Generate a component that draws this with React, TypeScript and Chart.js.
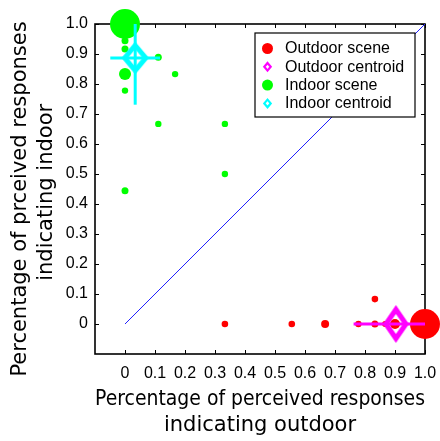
import React, { useEffect, useRef } from 'react';
import { Chart, registerables } from 'chart.js';

Chart.register(...registerables);

const FONT = "'Liberation Sans', Arial, Helvetica, sans-serif";
const TITLE_FONT = "'DejaVu Sans', 'Liberation Sans', sans-serif";

// ---- data ----
const tickValues = [0, 0.1, 0.2, 0.3, 0.4, 0.5, 0.6, 0.7, 0.8, 0.9, 1.0];
const xTickLabels = ['0', '0.1', '0.2', '0.3', '0.4', '0.5', '0.6', '0.7', '0.8', '0.9', '1.0'];
const yTickLabels = ['0', '0.1', '0.2', '0.3', '0.4', '0.5', '0.6', '0.7', '0.8', '0.9', '1.0'];
const axisMin = -0.1;
const axisMax = 1.0;

const outdoorSceneX = [1.0, 0.333, 0.556, 0.667, 0.778, 0.833, 0.833, 0.867, 0.9];
const outdoorSceneY = [0, 0, 0, 0, 0, 0, 0.083, 0, 0];
const outdoorSceneSize = [15, 3.3, 3.3, 4, 3.2, 3.5, 3.3, 3, 5];

const indoorSceneX = [0, 0, 0, 0, 0, 0.111, 0.167, 0.111, 0.333, 0.333, 0];
const indoorSceneY = [1.0, 0.944, 0.917, 0.833, 0.778, 0.889, 0.833, 0.667, 0.667, 0.5, 0.444];
const indoorSceneSize = [15, 3.5, 3.5, 6, 3.2, 3.5, 3.2, 3.2, 3.2, 3.2, 3.5];

const outdoorCentroidXY = [0.903, 0.0];
const outdoorCentroidSD = [0.141, 0.0];
const indoorCentroidXY = [0.034, 0.887];
const indoorCentroidSD = [0.083, 0.156];

const diagonalX = [0, 1];
const diagonalY = [0, 1];

const seriesLabels = ['Outdoor scene', 'Outdoor centroid', 'Indoor scene', 'Indoor centroid'];
const xTitleLines = ['Percentage of perceived responses', 'indicating outdoor'];
const yTitleLines = ['Percentage of prceived responses   ', 'indicating indoor '];

// ---- styles ----
const RED = '#ff0000';
const MAGENTA = '#ff00ff';
const GREEN = '#00ff00';
const CYAN = '#00ffff';
const BLUE = '#2020ff';

function makeDiamond(color: string, hw: number, hh: number, lw: number): HTMLCanvasElement {
  const c = document.createElement('canvas');
  const w = Math.ceil(2 * hw + 3 * lw);
  const h = Math.ceil(2 * hh + 3 * lw);
  c.width = w;
  c.height = h;
  const ctx = c.getContext('2d')!;
  const cx = w / 2;
  const cy = h / 2;
  ctx.strokeStyle = color;
  ctx.lineWidth = lw;
  ctx.lineJoin = 'miter';
  ctx.beginPath();
  ctx.moveTo(cx, cy - hh);
  ctx.lineTo(cx + hw, cy);
  ctx.lineTo(cx, cy + hh);
  ctx.lineTo(cx - hw, cy);
  ctx.closePath();
  ctx.stroke();
  return c;
}

function drawDiamondAt(ctx: CanvasRenderingContext2D, x: number, y: number, hw: number, hh: number, color: string, lw: number) {
  ctx.strokeStyle = color;
  ctx.lineWidth = lw;
  ctx.lineJoin = 'miter';
  ctx.beginPath();
  ctx.moveTo(x, y - hh);
  ctx.lineTo(x + hw, y);
  ctx.lineTo(x, y + hh);
  ctx.lineTo(x - hw, y);
  ctx.closePath();
  ctx.stroke();
}

const framePlugin = {
  id: 'matlabFrame',
  beforeDatasetsDraw(chart: any) {
    const { ctx, chartArea: a, scales } = chart;
    const xs = scales.x;
    const ys = scales.y;
    ctx.save();
    ctx.strokeStyle = '#000';
    ctx.lineWidth = 1;
    const tl = 4;
    ctx.beginPath();
    tickValues.forEach((v) => {
      const px = Math.round(xs.getPixelForValue(v)) + 0.5;
      ctx.moveTo(px, a.bottom);
      ctx.lineTo(px, a.bottom - tl);
      ctx.moveTo(px, a.top);
      ctx.lineTo(px, a.top + tl);
      const py = Math.round(ys.getPixelForValue(v)) + 0.5;
      ctx.moveTo(a.left, py);
      ctx.lineTo(a.left + tl, py);
      ctx.moveTo(a.right, py);
      ctx.lineTo(a.right - tl, py);
    });
    ctx.stroke();
    ctx.lineWidth = 1.6;
    ctx.strokeRect(a.left, a.top, a.right - a.left, a.bottom - a.top);
    ctx.restore();
  },
  afterDraw(chart: any) {
    const { ctx, chartArea: a } = chart;
    const boxW = 160;
    const boxH = 84;
    const left = a.right - 10 - boxW;
    const top = a.top + 9;
    ctx.save();
    ctx.fillStyle = '#fff';
    ctx.fillRect(left, top, boxW, boxH);
    ctx.strokeStyle = '#000';
    ctx.lineWidth = 1.2;
    ctx.strokeRect(left, top, boxW, boxH);
    const colors = [RED, MAGENTA, GREEN, CYAN];
    ctx.font = `16px ${FONT}`;
    ctx.textBaseline = 'middle';
    ctx.textAlign = 'left';
    seriesLabels.forEach((label, i) => {
      const y = top + 15.5 + i * 18.3;
      const mx = left + 12.5;
      if (i % 2 === 0) {
        ctx.fillStyle = colors[i];
        ctx.beginPath();
        ctx.arc(mx, y, 5.5, 0, Math.PI * 2);
        ctx.fill();
      } else {
        drawDiamondAt(ctx, mx, y, 3.2, 3.8, colors[i], 2.2);
      }
      ctx.fillStyle = '#000';
      ctx.fillText(label, left + 30, y + 0.5);
    });
    ctx.restore();
  },
};

export default function App() {
  const ref = useRef<HTMLCanvasElement>(null);

  useEffect(() => {
    const canvas = ref.current;
    if (!canvas) return;
    const magentaDiamond = makeDiamond(MAGENTA, 10, 14.5, 5);
    const cyanDiamond = makeDiamond(CYAN, 10.5, 12.5, 5);

    const pts = (xs: number[], ys: number[]) => xs.map((x, i) => ({ x, y: ys[i] }));
    const hBar = (c: number[], sd: number[]) => [
      { x: c[0] - sd[0], y: c[1] },
      { x: c[0] + sd[0], y: c[1] },
    ];
    const vBar = (c: number[], sd: number[]) => [
      { x: c[0], y: c[1] - sd[1] },
      { x: c[0], y: c[1] + sd[1] },
    ];

    const barStyle = (color: string) => ({
      type: 'line' as const,
      showLine: true,
      borderColor: color,
      borderWidth: 3,
      borderCapStyle: 'butt' as const,
      pointRadius: 0,
      fill: false,
      clip: 0,
      order: 1,
    });

    const tickOpts = (labels: string[], padding: number) => ({
      callback: (_v: any, i: number) => labels[i],
      font: { family: FONT, size: 16 },
      color: '#000',
      maxRotation: 0,
      autoSkip: false,
      padding,
    });

    const buildTicks = (s: any) => {
      s.ticks = tickValues.map((v) => ({ value: v }));
    };

    const chart = new Chart(canvas, {
      type: 'scatter',
      data: {
        datasets: [
          {
            label: seriesLabels[1],
            data: [{ x: outdoorCentroidXY[0], y: outdoorCentroidXY[1] }],
            pointStyle: magentaDiamond as any,
            pointRadius: 5,
            clip: false as any,
            order: 0,
          },
          {
            label: seriesLabels[3],
            data: [{ x: indoorCentroidXY[0], y: indoorCentroidXY[1] }],
            pointStyle: cyanDiamond as any,
            pointRadius: 5,
            clip: false as any,
            order: 0,
          },
          { label: 'outdoor-sd-x', data: hBar(outdoorCentroidXY, outdoorCentroidSD), ...barStyle(MAGENTA) } as any,
          { label: 'indoor-sd-x', data: hBar(indoorCentroidXY, indoorCentroidSD), ...barStyle(CYAN) } as any,
          { label: 'indoor-sd-y', data: vBar(indoorCentroidXY, indoorCentroidSD), ...barStyle(CYAN) } as any,
          {
            label: seriesLabels[0],
            data: pts(outdoorSceneX, outdoorSceneY),
            pointRadius: outdoorSceneSize,
            pointHoverRadius: outdoorSceneSize,
            backgroundColor: RED,
            borderWidth: 0,
            pointBorderWidth: 0,
            clip: false as any,
            order: 2,
          },
          {
            label: seriesLabels[2],
            data: pts(indoorSceneX, indoorSceneY),
            pointRadius: indoorSceneSize,
            pointHoverRadius: indoorSceneSize,
            backgroundColor: GREEN,
            borderWidth: 0,
            pointBorderWidth: 0,
            clip: false as any,
            order: 2,
          },
          {
            type: 'line',
            label: 'diagonal',
            data: pts(diagonalX, diagonalY),
            showLine: true,
            borderColor: BLUE,
            borderWidth: 1,
            pointRadius: 0,
            fill: false,
            order: 3,
          } as any,
        ],
      },
      options: {
        animation: false,
        responsive: true,
        maintainAspectRatio: false,
        events: [],
        layout: { padding: { top: 24, right: 15, left: 0, bottom: 0 } },
        plugins: {
          legend: { display: false },
          tooltip: { enabled: false },
        },
        scales: {
          x: {
            type: 'linear',
            min: axisMin,
            max: axisMax,
            position: 'bottom',
            afterBuildTicks: buildTicks,
            afterFit: (s: any) => {
              s.height = 87;
              s.paddingLeft = 0;
              s.paddingRight = 0;
            },
            grid: { display: false, drawTicks: false },
            border: { display: false },
            ticks: tickOpts(xTickLabels, 10),
            title: {
              display: true,
              text: xTitleLines,
              font: { family: TITLE_FONT, size: 21, lineHeight: 1.214 },
              color: '#000',
              padding: { top: 0, bottom: 3 },
            },
          } as any,
          y: {
            type: 'linear',
            min: axisMin,
            max: axisMax,
            position: 'left',
            afterBuildTicks: buildTicks,
            afterFit: (s: any) => {
              s.width = 95;
              s.paddingTop = 0;
              s.paddingBottom = 0;
            },
            grid: { display: false, drawTicks: false },
            border: { display: false },
            ticks: tickOpts(yTickLabels, 7),
            title: {
              display: true,
              text: yTitleLines,
              font: { family: TITLE_FONT, size: 21, lineHeight: 1.214 },
              color: '#000',
              padding: { top: 8, bottom: 0 },
            },
          } as any,
        },
      },
      plugins: [framePlugin],
    });
    return () => chart.destroy();
  }, []);

  return (
    <div style={{ position: 'fixed', left: 0, top: 0, width: 440, height: 441 }}>
      <canvas ref={ref} />
    </div>
  );
}
